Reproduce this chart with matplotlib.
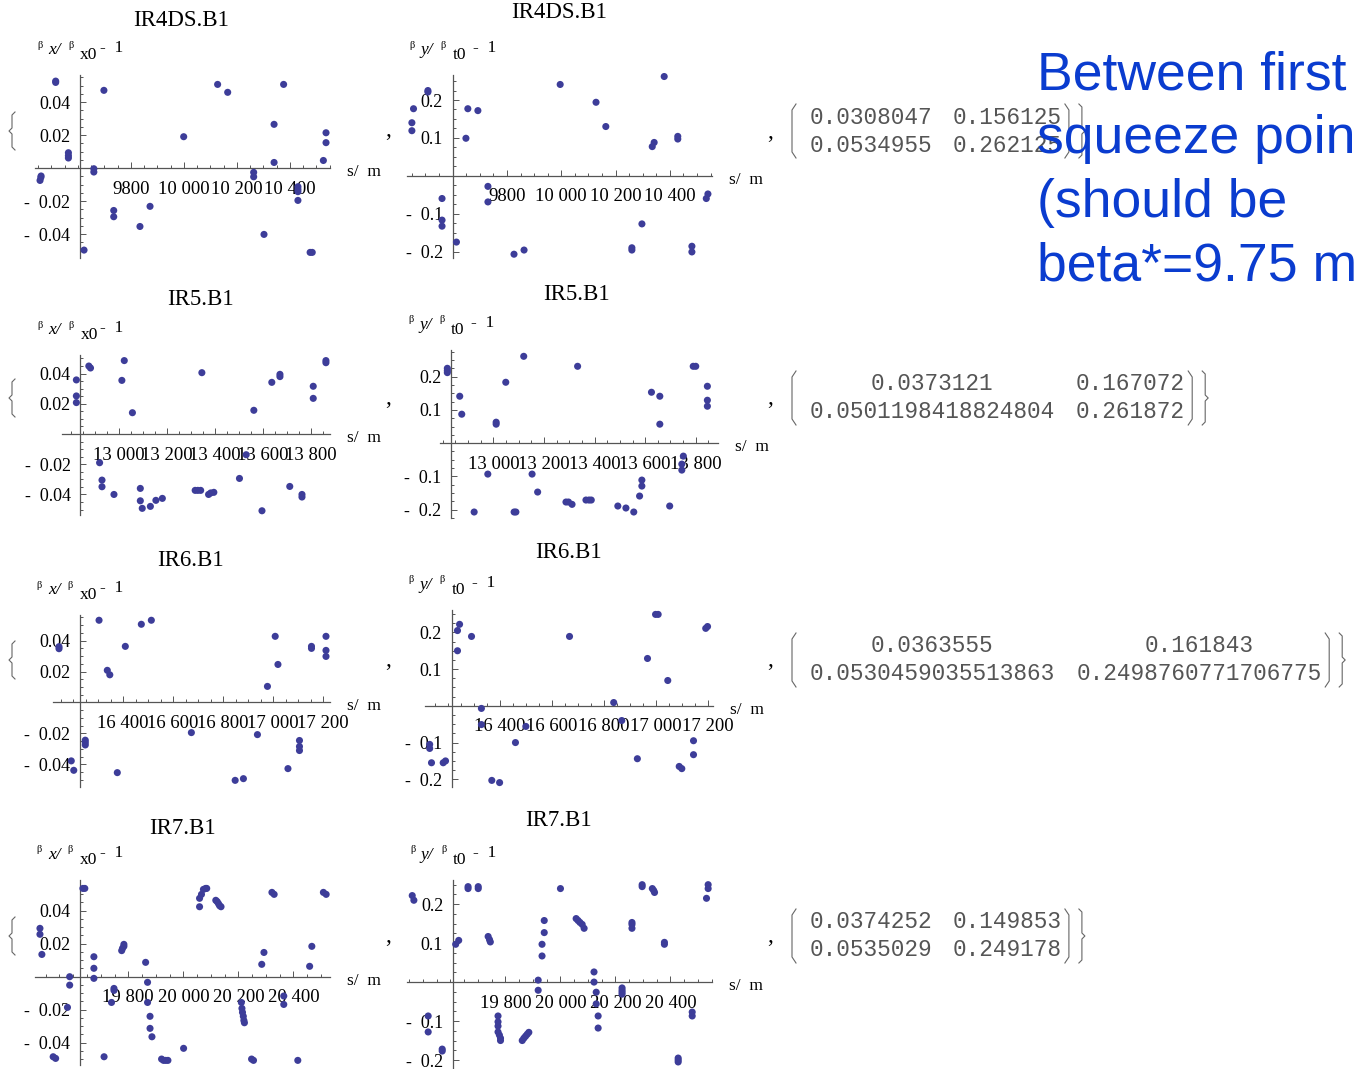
import matplotlib
matplotlib.use("Agg")
import matplotlib.pyplot as plt
from matplotlib.lines import Line2D
from matplotlib.ticker import FixedLocator, MultipleLocator, FuncFormatter

W, H = 1356, 1069

# s [m] and relative beta beating
ir4_x_s = [9457, 9460, 9461, 9516, 9516, 9564, 9564, 9564, 9623, 9660, 9660, 9698, 9735, 9735,
           9834, 9872, 9999, 10127, 10165, 10263, 10263, 10302, 10340, 10340, 10376, 10430, 10430,
           10430, 10430, 10476, 10484, 10526, 10536, 10536]
ir4_x_v = [-0.0075, -0.0057, -0.0048, 0.0527, 0.0519, 0.0093, 0.0075, 0.0061, -0.0497, -0.0004,
           -0.0024, 0.0471, -0.0257, -0.0295, -0.0354, -0.0232, 0.0190, 0.0507, 0.0459, -0.0026,
           -0.0053, -0.0402, 0.0265, 0.0034, 0.0507, -0.0113, -0.0129, -0.0143, -0.0196, -0.0511,
           -0.0511, 0.0046, 0.0214, 0.0154]
ir4_y_s = [9450, 9450, 9456, 9509, 9509, 9561, 9561, 9561, 9614, 9649, 9656, 9693, 9730, 9730,
           9826, 9863, 9996, 10128, 10164, 10260, 10260, 10297, 10335, 10342, 10379, 10429, 10429,
           10481, 10481, 10534, 10540]
ir4_y_v = [0.140, 0.119, 0.177, 0.225, 0.221, -0.060, -0.117, -0.133, -0.175, 0.099, 0.177, 0.172,
           -0.028, -0.069, -0.207, -0.196, 0.241, 0.194, 0.130, -0.190, -0.196, -0.127, 0.077, 0.088,
           0.262, 0.104, 0.097, -0.186, -0.201, -0.060, -0.048]

ir5_x_s = [12822, 12822, 12822, 12874, 12881, 12919, 12929, 12929, 12979, 13012, 13022, 13056,
           13089, 13089, 13097, 13131, 13154, 13181, 13318, 13329, 13341, 13346, 13374, 13383,
           13396, 13503, 13531, 13563, 13597, 13638, 13672, 13672, 13713, 13764, 13764, 13811,
           13811, 13864, 13864]
ir5_x_v = [0.0358, 0.0252, 0.0208, 0.0450, 0.0437, -0.0190, -0.0305, -0.0349, -0.0400, 0.0355,
           0.0486, 0.0141, -0.0360, -0.0442, -0.0492, -0.0479, -0.0439, -0.0426, -0.0373, -0.0373,
           -0.0373, 0.0406, -0.0400, -0.0390, -0.0386, -0.0294, -0.0137, 0.0157, -0.0508, 0.0342,
           0.0380, 0.0395, -0.0347, -0.0400, -0.0417, 0.0316, 0.0236, 0.0486, 0.0472]
ir5_y_s = [12818, 12818, 12818, 12867, 12875, 12924, 12978, 13011, 13011, 13049, 13082, 13089,
           13120, 13153, 13175, 13287, 13297, 13311, 13333, 13366, 13378, 13387, 13492, 13524,
           13555, 13578, 13587, 13587, 13625, 13658, 13658, 13697, 13745, 13745, 13751, 13790,
           13800, 13846, 13846, 13846]
ir5_y_v = [0.225, 0.218, 0.212, 0.141, 0.087, -0.207, -0.093, 0.063, 0.057, 0.183, -0.207, -0.207,
           0.261, -0.093, -0.147, -0.177, -0.177, -0.184, 0.231, -0.171, -0.171, -0.171, -0.189,
           -0.195, -0.207, -0.159, -0.111, -0.129, 0.153, 0.141, 0.057, -0.189, -0.063, -0.081,
           -0.039, 0.231, 0.231, 0.171, 0.129, 0.111]

ir6_x_s = [16144, 16144, 16193, 16203, 16249, 16249, 16249, 16304, 16337, 16347, 16377, 16409,
           16473, 16513, 16673, 16848, 16881, 16937, 16977, 17008, 17019, 17059, 17105, 17105,
           17105, 17153, 17153, 17211, 17211, 17211]
ir6_x_v = [0.0361, 0.0348, -0.0378, -0.0439, -0.0244, -0.0259, -0.0275, 0.0532, 0.0208, 0.0179,
           -0.0454, 0.0363, 0.0506, 0.0532, -0.0195, -0.0504, -0.0493, -0.0208, 0.0104, 0.0428,
           0.0246, -0.0428, -0.0246, -0.0285, -0.0311, 0.0363, 0.0350, 0.0428, 0.0337, 0.0298]
ir6_y_s = [16130, 16130, 16137, 16182, 16191, 16237, 16237, 16245, 16291, 16329, 16329, 16369,
           16399, 16460, 16500, 16668, 16838, 16869, 16929, 16968, 16999, 17009, 17046, 17090,
           17100, 17145, 17145, 17192, 17199]
ir6_y_v = [-0.105, -0.116, -0.155, -0.155, -0.150, 0.205, 0.150, 0.222, 0.189, -0.007, -0.051,
           -0.203, -0.209, -0.100, -0.056, 0.189, 0.009, -0.040, -0.144, 0.129, 0.249, 0.249, 0.069,
           -0.165, -0.171, -0.095, -0.133, 0.211, 0.216]

ir7_x_s = [19479, 19479, 19486, 19527, 19536, 19587, 19587, 19579, 19635, 19642, 19675, 19675,
           19675, 19712, 19739, 19748, 19748, 19776, 19779, 19784, 19784, 19863, 19870, 19870,
           19879, 19879, 19886, 19921, 19928, 19936, 19944, 20001, 20059, 20059, 20066, 20073,
           20081, 20085, 20118, 20123, 20128, 20132, 20137, 20211, 20213, 20215, 20218, 20220,
           20222, 20248, 20255, 20285, 20293, 20322, 20330, 20365, 20365, 20416, 20459, 20467,
           20509, 20519]
ir7_x_v = [0.0293, 0.0257, 0.0135, -0.0485, -0.0495, 0.0000, -0.0051, -0.0186, 0.0535, 0.0535,
           0.0121, 0.0051, -0.0010, -0.0485, -0.0156, -0.0071, -0.0083, 0.0158, 0.0172, 0.0184,
           0.0196, 0.0087, -0.0034, -0.0156, -0.0240, -0.0313, -0.0364, -0.0499, -0.0507, -0.0507,
           -0.0507, -0.0434, 0.0424, 0.0475, 0.0499, 0.0529, 0.0535, 0.0535, 0.0463, 0.0455, 0.0442,
           0.0430, 0.0424, -0.0156, -0.0192, -0.0216, -0.0240, -0.0265, -0.0279, -0.0499, -0.0507,
           0.0075, 0.0147, 0.0511, 0.0499, -0.0117, -0.0168, -0.0507, 0.0063, 0.0184, 0.0511, 0.0499]
ir7_y_s = [19461, 19467, 19519, 19519, 19570, 19570, 19619, 19630, 19664, 19664, 19701, 19701,
           19737, 19742, 19745, 19773, 19773, 19773, 19773, 19778, 19782, 19782, 19861, 19867,
           19873, 19879, 19885, 19919, 19919, 19933, 19933, 19941, 19941, 20000, 20057, 20064,
           20071, 20079, 20086, 20122, 20122, 20130, 20130, 20137, 20137, 20224, 20224, 20224,
           20224, 20260, 20260, 20260, 20297, 20297, 20334, 20339, 20342, 20378, 20378, 20428,
           20428, 20428, 20479, 20479, 20531, 20537, 20537]
ir7_y_v = [0.222, 0.210, -0.087, -0.128, -0.172, -0.177, 0.097, 0.107, 0.245, 0.240, 0.245, 0.240,
           0.117, 0.109, 0.103, -0.087, -0.102, -0.113, -0.128, -0.136, -0.144, -0.150, -0.150,
           -0.144, -0.139, -0.134, -0.129, 0.005, -0.021, 0.067, 0.097, 0.127, 0.158, 0.240, 0.163,
           0.158, 0.153, 0.148, 0.138, 0.026, 0.000, -0.026, -0.056, -0.087, -0.118, -0.015, -0.021,
           -0.026, -0.031, 0.153, 0.148, 0.138, 0.250, 0.245, 0.240, 0.235, 0.230, 0.102, 0.097,
           -0.195, -0.200, -0.205, -0.077, -0.087, 0.215, 0.250, 0.240]

titles = ["IR4DS.B1", "IR5.B1", "IR6.B1", "IR7.B1"]
s_ticks = [[9800, 10000, 10200, 10400],
           [13000, 13200, 13400, 13600, 13800],
           [16400, 16600, 16800, 17000, 17200],
           [19800, 20000, 20200, 20400]]
bx_ticks = [-0.04, -0.02, 0.02, 0.04]
by_ticks = [-0.2, -0.1, 0.1, 0.2]

matrices = [
    [["0.0308047", "0.156125"], ["0.0534955", "0.262125"]],
    [["0.0373121", "0.167072"], ["0.0501198418824804", "0.261872"]],
    [["0.0363555", "0.161843"], ["0.0530459035513863", "0.2498760771706775"]],
    [["0.0374252", "0.149853"], ["0.0535029", "0.249178"]],
]
note_lines = ["Between first", "squeeze point", "(should be", "beta*=9.75 m"]

# layout: axes box in pixels (left, top, right, bottom), plot range, axis origin, title centre
panels = [
    dict(s=ir4_x_s, v=ir4_x_v, row=0, plane="x", box=(35, 75, 330, 258),
         xlim=(9438, 10551), ylim=(-0.0545, 0.0564), s0=9608, tpos=(181, 20)),
    dict(s=ir4_y_s, v=ir4_y_v, row=0, plane="y", box=(407, 75, 712, 258),
         xlim=(9432, 10555), ylim=(-0.217, 0.266), s0=9600, tpos=(559, 13)),
    dict(s=ir5_x_s, v=ir5_x_v, row=1, plane="x", box=(62, 355, 330, 515),
         xlim=(12762, 13881), ylim=(-0.0536, 0.0523), s0=12839, tpos=(200, 300)),
    dict(s=ir5_y_s, v=ir5_y_v, row=1, plane="y", box=(440, 350, 718, 518),
         xlim=(12789, 13888), ylim=(-0.225, 0.28), s0=12833, tpos=(576, 294)),
    dict(s=ir6_x_s, v=ir6_x_v, row=2, plane="x", box=(53, 615, 330, 787),
         xlim=(16120, 17227), ylim=(-0.0547, 0.0566), s0=16227, tpos=(190, 560)),
    dict(s=ir6_y_s, v=ir6_y_v, row=2, plane="y", box=(425, 610, 713, 787),
         xlim=(16112, 17220), ylim=(-0.221, 0.261), s0=16214, tpos=(568, 552)),
    dict(s=ir7_x_s, v=ir7_x_v, row=3, plane="x", box=(35, 880, 330, 1065),
         xlim=(19461, 20533), ylim=(-0.0535, 0.0586), s0=19624, tpos=(182, 828)),
    dict(s=ir7_y_s, v=ir7_y_v, row=3, plane="y", box=(407, 880, 712, 1068),
         xlim=(19442, 20551), ylim=(-0.2205, 0.262), s0=19609, tpos=(558, 821)),
]
row_mid = [131, 398, 660, 936]

SERIF = ["Liberation Serif", "DejaVu Serif"]
DOT = "#3d3d99"
AXC = "#555555"


def fx(px):
    return px / W


def fy(py):
    return 1 - py / H


def ptext(fig, px, py, s, **kw):
    kw.setdefault("family", SERIF)
    return fig.text(fx(px), fy(py), s, **kw)


def pline(fig, xs, ys, lw=0.8, color="#666666"):
    fig.add_artist(Line2D([fx(x) for x in xs], [fy(y) for y in ys],
                          transform=fig.transFigure, lw=lw, color=color))


def paren(fig, x, y0, y1, side):
    d = 4 * side
    pline(fig, [x + d, x, x, x + d], [y0, y0 + 6, y1 - 6, y1])


def brace(fig, x, y0, y1, side):
    d = 3 * side
    ym = (y0 + y1) / 2
    pline(fig, [x + d, x, x, x - d, x, x, x + d],
          [y0, y0 + 3, ym - 3, ym, ym + 3, y1 - 3, y1])


def s_fmt(v, pos):
    v = int(round(v))
    return f"{v:,}".replace(",", " ") if v >= 10000 else str(v)


def beat_fmt(nd):
    def f(v, pos):
        t = f"{abs(v):.{nd}f}"
        return "-  " + t if v < 0 else t
    return f


fig = plt.figure(figsize=(W / 100, H / 100), dpi=100)

for p in panels:
    L, T, R, B = p["box"]
    ax = fig.add_axes([fx(L), fy(B), (R - L) / W, (B - T) / H])
    ax.set_xlim(*p["xlim"])
    ax.set_ylim(*p["ylim"])
    ax.patch.set_visible(False)
    ax.scatter(p["s"], p["v"], s=26, color=DOT, edgecolors="none", clip_on=False, zorder=3)

    for k in ("top", "right"):
        ax.spines[k].set_visible(False)
    ax.spines["left"].set_position(("data", p["s0"]))
    ax.spines["bottom"].set_position(("data", 0))
    for k in ("left", "bottom"):
        ax.spines[k].set_color(AXC)
        ax.spines[k].set_linewidth(0.9)

    ax.xaxis.set_major_locator(FixedLocator(s_ticks[p["row"]]))
    ax.xaxis.set_minor_locator(MultipleLocator(50))
    ax.xaxis.set_major_formatter(FuncFormatter(s_fmt))
    if p["plane"] == "x":
        ax.yaxis.set_major_locator(FixedLocator(bx_ticks))
        ax.yaxis.set_minor_locator(MultipleLocator(0.005))
        ax.yaxis.set_major_formatter(FuncFormatter(beat_fmt(2)))
    else:
        ax.yaxis.set_major_locator(FixedLocator(by_ticks))
        ax.yaxis.set_minor_locator(MultipleLocator(0.025))
        ax.yaxis.set_major_formatter(FuncFormatter(beat_fmt(1)))
    ax.tick_params(which="both", direction="in", color=AXC, width=0.7)
    ax.tick_params(which="major", length=4)
    ax.tick_params(which="minor", length=2.2)
    ax.tick_params(axis="x", which="major", pad=9)
    ax.tick_params(axis="y", which="major", pad=7)
    for lab in ax.get_xticklabels():
        lab.set_family(SERIF)
        lab.set_fontsize(13.5)
    for lab in ax.get_yticklabels():
        lab.set_family(SERIF)
        lab.set_fontsize(13)

    # pixel positions of the axis cross and the top of the vertical axis
    ox, oy = ax.transData.transform((p["s0"], 0))
    oy = H - oy

    ptext(fig, p["tpos"][0], p["tpos"][1], titles[p["row"]], fontsize=16.5, ha="center", va="center")
    ptext(fig, R + 17, oy + 4, "s/  m", fontsize=12.5, ha="left", va="center")

    ref = "x0" if p["plane"] == "x" else "t0"
    ptext(fig, ox - 43, T - 30, "β", fontsize=7.5, ha="left", va="center")
    ptext(fig, ox - 32, T - 25, p["plane"] + "/", fontsize=12.5, style="italic", ha="left", va="center")
    ptext(fig, ox - 12, T - 30, "β", fontsize=7.5, ha="left", va="center")
    ptext(fig, ox, T - 20, ref, fontsize=12.5, ha="left", va="center")
    ptext(fig, ox + 20, T - 27, "-  1", fontsize=12.5, ha="left", va="center")

# list punctuation around each row
for r, ym in enumerate(row_mid):
    brace(fig, 12, ym - 19, ym + 19, 1)
    ptext(fig, 388, ym, ",", fontsize=17, ha="center", va="center")
    ptext(fig, 770, ym + 1, ",", fontsize=17, ha="center", va="center")

# matrices of rms / max beating
PITCH = 13.7
MONO = ["Liberation Mono", "DejaVu Sans Mono"]
for mat, ym in zip(matrices, row_mid):
    w1 = max(len(mat[0][0]), len(mat[1][0])) * PITCH
    w2 = max(len(mat[0][1]), len(mat[1][1])) * PITCH
    c1 = 809 + w1 / 2
    c2 = 809 + w1 + 20 + w2 / 2
    for i, line in enumerate(mat):
        yy = ym - 14 + 28 * i
        ptext(fig, c1, yy, line[0], fontsize=16.4, family=MONO, color="#555555", ha="center", va="center")
        ptext(fig, c2, yy, line[1], fontsize=16.4, family=MONO, color="#555555", ha="center", va="center")
    xr = 809 + w1 + 20 + w2
    paren(fig, 792, ym - 27, ym + 27, 1)
    paren(fig, xr + 7, ym - 27, ym + 27, -1)
    brace(fig, xr + 20, ym - 27, ym + 27, -1)

# slide annotation
for i, line in enumerate(note_lines):
    ptext(fig, 1037, 90 + 63.5 * i, line, fontsize=38.5, family=["Liberation Sans", "DejaVu Sans"],
          color="#0a3ccf", ha="left", va="baseline")

fig.savefig("out.png", dpi=100)
